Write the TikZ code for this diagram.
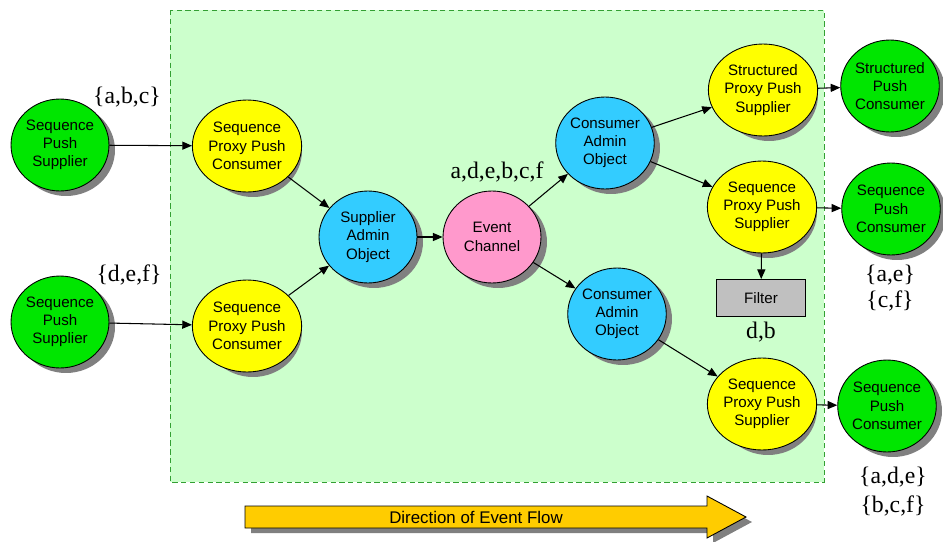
\documentclass[tikz,border=0pt]{standalone}
\usepackage{fontspec}
\setmainfont{Liberation Serif}
\setsansfont{Liberation Sans}
\usetikzlibrary{shapes.geometric,arrows.meta}

\definecolor{chanbg}{HTML}{CCFFCC}
\definecolor{chanedge}{HTML}{33A033}
\definecolor{clientgreen}{HTML}{00E600}
\definecolor{proxyyellow}{HTML}{FFFF00}
\definecolor{adminblue}{HTML}{33CCFF}
\definecolor{chanpink}{HTML}{FF99CC}
\definecolor{filtergray}{HTML}{C0C0C0}
\definecolor{flowgold}{HTML}{FFCC00}
\definecolor{shadowgray}{HTML}{808080}

\begin{document}
\begin{tikzpicture}[x=0.02cm, y=-0.02cm,
		obj/.style={ellipse, draw, line width=0.5pt, minimum width=1.96cm, minimum height=1.84cm,
			inner sep=0pt, align=center, font=\sffamily\fontsize{8.6}{10.4}\selectfont},
		objshadow/.style={ellipse, fill=shadowgray, minimum width=1.96cm, minimum height=1.84cm},
		client/.style={obj, fill=clientgreen},
		proxy/.style={obj, fill=proxyyellow},
		admin/.style={obj, fill=adminblue},
		chan/.style={obj, fill=chanpink},
		evset/.style={font=\fontsize{13.5}{15}\selectfont, inner sep=0pt},
		flow/.style={-{Triangle[length=5.5pt,width=4.6pt]}, line width=0.6pt}]
		\useasboundingbox (0,0) rectangle (943,541);

		% draw the channel area
		\draw [chanedge, densely dashed, line width=0.5pt, fill=chanbg] (170,10) rectangle (824,482);

		% shadows first, shifted down and right
		\foreach \px/\py in {60/145, 60/322, 247/146, 247/326, 368/237, 492/237, 605/143, 617/314,
				763/90, 762/207, 762/404, 890/86, 891/209, 887/406}
			\node [objshadow] at (\px+6,\py+5) {};
		\fill [shadowgray] (251,511) -- (713,511) -- (713,501) -- (752,522) -- (713,543) -- (713,533) -- (251,533) -- cycle;

		% draw the suppliers and their proxies
		\node [client] (sup1) at (60,145) {Sequence\\Push\\Supplier};
		\node [client] (sup2) at (60,322) {Sequence\\Push\\Supplier};
		\node [proxy] (ppc1) at (247,146) {Sequence\\Proxy Push\\Consumer};
		\node [proxy] (ppc2) at (247,326) {Sequence\\Proxy Push\\Consumer};
		\node [evset] (set1) at (127,97) {\{a,b,c\}};
		\node [evset] (set2) at (129,275) {\{d,e,f\}};

		% draw the admins and the channel
		\node [admin] (sadmin) at (368,237) {Supplier\\Admin\\Object};
		\node [chan] (chan) at (492,237) {Event\\Channel};
		\node [evset] (all) at (497,172) {a,d,e,b,c,f};
		\node [admin] (cadmin1) at (605,143) {Consumer\\Admin\\Object};
		\node [admin] (cadmin2) at (617,314) {Consumer\\Admin\\Object};

		% draw the consumer side
		\node [proxy] (spps) at (763,90) {Structured\\Proxy Push\\Supplier};
		\node [proxy] (pps1) at (762,207) {Sequence\\Proxy Push\\Supplier};
		\node [proxy] (pps2) at (762,404) {Sequence\\Proxy Push\\Supplier};
		\node [client] (spc) at (890,86) {Structured\\Push\\Consumer};
		\node [client] (con1) at (891,209) {Sequence\\Push\\Consumer};
		\node [client] (con2) at (887,406) {Sequence\\Push\\Consumer};

		\node [draw, fill=filtergray, line width=0.5pt, minimum width=1.78cm, minimum height=0.74cm,
			font=\sffamily\fontsize{8.6}{10.4}\selectfont] (filter) at (761,298) {Filter};
		\node [evset] (drop) at (761,332) {d,b};
		\node [evset] (set3) at (890,275) {\{a,e\}};
		\node [evset] (set4) at (890,301) {\{c,f\}};
		\node [evset] (set5) at (893,477) {\{a,d,e\}};
		\node [evset] (set6) at (893,506) {\{b,c,f\}};

		% draw the connections
		\draw [flow] (sup1) -- (ppc1);
		\draw [flow] (sup2) -- (ppc2);
		\draw [flow] (ppc1) -- (sadmin);
		\draw [flow] (ppc2) -- (sadmin);
		\draw [flow] (sadmin) -- (chan);
		\draw [flow] (chan) -- (cadmin1);
		\draw [flow] (chan) -- (cadmin2);
		\draw [flow] (cadmin1) -- (spps);
		\draw [flow] (cadmin1) -- (pps1);
		\draw [flow] (cadmin2) -- (pps2);
		\draw [flow] (spps) -- (spc);
		\draw [flow] (pps1) -- (con1);
		\draw [flow] (pps2) -- (con2);
		\draw [flow] (pps1) -- (filter);

		% draw the flow arrow
		\draw [fill=flowgold, line width=0.5pt]
			(245,506) -- (707,506) -- (707,496) -- (746,517) -- (707,538) -- (707,528) -- (245,528) -- cycle;
		\node [font=\sffamily\fontsize{9.6}{11}\selectfont] (dir) at (476,517) {Direction of Event Flow};
\end{tikzpicture}
\end{document}
